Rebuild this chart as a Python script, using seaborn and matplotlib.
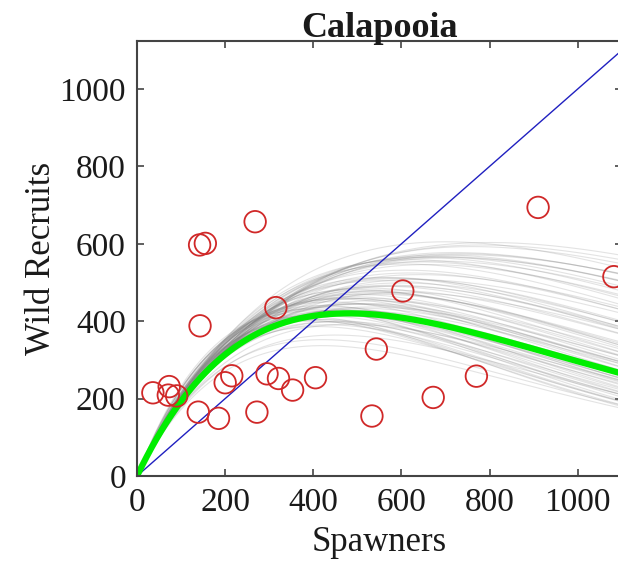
import numpy as np
import pandas as pd
import matplotlib
matplotlib.use("Agg")
import matplotlib.pyplot as plt
import seaborn as sns

# observed spawner / recruit pairs
spawners = [36, 73, 71, 90, 139, 185, 200, 215, 143, 142, 155, 268, 315,
            295, 321, 353, 272, 533, 405, 543, 603, 672, 910, 1082, 770]
recruits = [215, 231, 209, 207, 165, 149, 241, 259, 388, 597, 601, 657, 435,
            264, 252, 222, 165, 155, 254, 328, 478, 203, 694, 515, 258]

# Ricker fit (median) and posterior draws: R = a * S * exp(-S / smax)
fit_a = 2.38
fit_smax = 480

draw_a = [2.10, 2.20, 2.35, 2.25, 2.15, 2.45, 2.30, 2.50, 2.60, 2.40,
          2.28, 2.55, 2.70, 2.22, 2.33, 2.48, 2.65, 2.38, 2.18, 2.42,
          2.58, 2.75, 2.26, 2.36, 2.52, 2.31, 2.44, 2.62, 2.80, 2.20,
          2.34, 2.46, 2.56, 2.29, 2.39, 2.68, 2.24, 2.41, 2.53, 2.37,
          2.47, 2.32, 2.60, 2.27, 2.43, 2.72, 2.35, 2.50, 2.21, 2.40,
          2.12, 2.18, 2.25, 2.30, 2.08, 2.16, 2.36, 2.22, 2.45, 2.14,
          2.90, 2.85, 2.95, 2.78, 3.00, 2.66, 2.54, 2.49, 2.88, 2.62,
          2.05, 2.26, 2.38, 2.19, 2.31, 2.57, 2.44, 2.70, 2.35, 2.28]
draw_smax = [740, 700, 640, 660, 600, 560, 620, 520, 480, 580,
             540, 500, 440, 480, 520, 470, 430, 560, 420, 500,
             450, 400, 600, 460, 480, 510, 530, 420, 390, 450,
             490, 440, 410, 570, 470, 420, 530, 500, 450, 610,
             430, 550, 440, 510, 480, 400, 590, 460, 640, 520,
             760, 720, 690, 670, 780, 710, 650, 680, 620, 730,
             400, 420, 380, 440, 390, 470, 520, 560, 410, 500,
             800, 590, 540, 630, 580, 490, 610, 460, 700, 420]

spawn_grid = np.linspace(0, 1100, 200)

rows = []
for k, (a, smax) in enumerate(zip(draw_a, draw_smax)):
    for s in spawn_grid:
        rows.append((k, s, a * s * np.exp(-s / smax)))
draws = pd.DataFrame(rows, columns=["draw", "S", "R"])
fit = pd.DataFrame({"S": spawn_grid, "R": fit_a * spawn_grid * np.exp(-spawn_grid / fit_smax)})
one_to_one = pd.DataFrame({"S": [0, 1200], "R": [0, 1200]})
obs = pd.DataFrame({"S": spawners, "R": recruits})

sns.set_style("ticks")
plt.rcParams["font.family"] = ["Liberation Serif", "DejaVu Serif"]
plt.rcParams["text.color"] = "#1a1a1a"
plt.rcParams["axes.labelcolor"] = "#1a1a1a"
plt.rcParams["xtick.labelcolor"] = "#1a1a1a"
plt.rcParams["ytick.labelcolor"] = "#1a1a1a"

fig = plt.figure(figsize=(6.18, 5.65), dpi=100)
ax = fig.add_axes([0.2217, 0.1575, 0.7845, 0.770])

sns.lineplot(data=draws, x="S", y="R", units="draw", estimator=None,
             color="0.5", alpha=0.22, lw=0.8, ax=ax)
sns.lineplot(data=one_to_one, x="S", y="R", color="#2020c0", lw=1.0, ax=ax)
sns.lineplot(data=fit, x="S", y="R", color="#00ee00", lw=4.5, ax=ax)
sns.scatterplot(data=obs, x="S", y="R", s=240, facecolor="none",
                edgecolor="#d02828", linewidth=1.3, ax=ax, zorder=5)

ax.set_xlim(0, 1100)
ax.set_ylim(0, 1124)
ax.set_xticks([0, 200, 400, 600, 800, 1000])
ax.set_yticks([0, 200, 400, 600, 800, 1000])
ax.tick_params(direction="in", top=True, right=True, labelsize=24,
               length=5, width=1.2, color="#444444", pad=8)
for sp in ax.spines.values():
    sp.set_visible(True)
    sp.set_color("#444444")
    sp.set_linewidth(1.5)

ax.set_xlabel("Spawners", fontsize=25, labelpad=6)
ax.set_ylabel("Wild Recruits", fontsize=25, labelpad=1)
ax.set_title("Calapooia", fontsize=26, fontweight="bold", pad=3)

fig.savefig("out.png", dpi=100)
